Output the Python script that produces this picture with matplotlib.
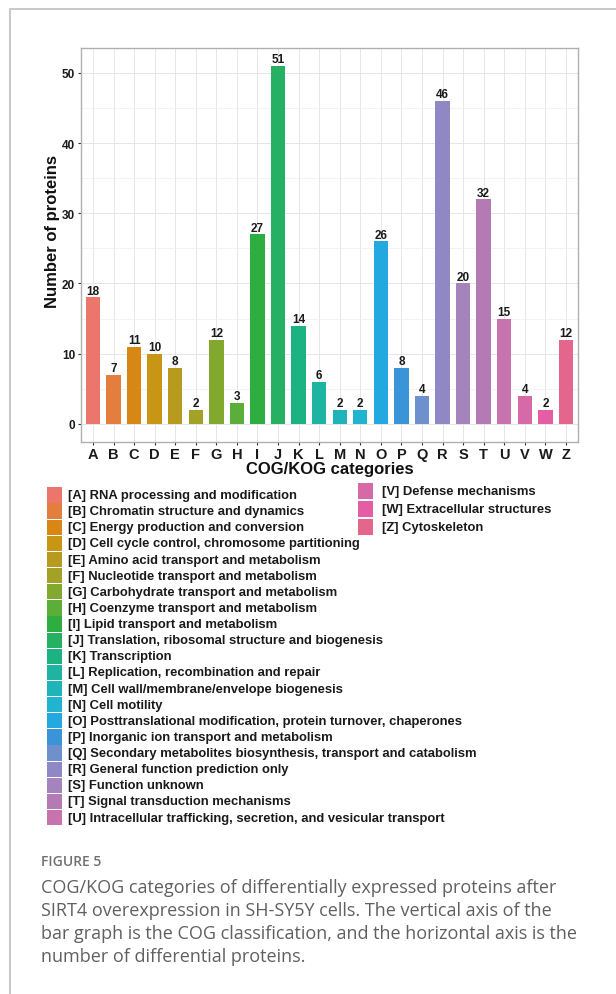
import matplotlib
matplotlib.use("Agg")
import matplotlib.pyplot as plt
from matplotlib.patches import Rectangle
from matplotlib.lines import Line2D
import numpy as np

W, H = 616, 995

CATS = list("ABCDEFGHIJKLMNOPQRSTUVWZ")
COUNTS = [18, 7, 11, 10, 8, 2, 12, 3, 27, 51, 14, 6, 2, 2, 26, 8, 4, 46, 20, 32, 15, 4, 2, 12]
DESCR = [
    "RNA processing and modification",
    "Chromatin structure and dynamics",
    "Energy production and conversion",
    "Cell cycle control, chromosome partitioning",
    "Amino acid transport and metabolism",
    "Nucleotide transport and metabolism",
    "Carbohydrate transport and metabolism",
    "Coenzyme transport and metabolism",
    "Lipid transport and metabolism",
    "Translation, ribosomal structure and biogenesis",
    "Transcription",
    "Replication, recombination and repair",
    "Cell wall/membrane/envelope biogenesis",
    "Cell motility",
    "Posttranslational modification, protein turnover, chaperones",
    "Inorganic ion transport and metabolism",
    "Secondary metabolites biosynthesis, transport and catabolism",
    "General function prediction only",
    "Function unknown",
    "Signal transduction mechanisms",
    "Intracellular trafficking, secretion, and vesicular transport",
    "Defense mechanisms",
    "Extracellular structures",
    "Cytoskeleton",
]
YTICKS = [0, 10, 20, 30, 40, 50]
CAPTION_HEAD = "FIGURE 5"
CAPTION_LINES = [
    "COG/KOG categories of differentially expressed proteins after",
    "SIRT4 overexpression in SH-SY5Y cells. The vertical axis of the",
    "bar graph is the COG classification, and the horizontal axis is the",
    "number of differential proteins.",
]

# colours as they appear in the figure (muted ggplot hue wheel)
COLORS = [
    "#ec766c", "#e47e3e", "#d98714", "#c99514", "#b89a1e", "#a4a127",
    "#82a82d", "#5cae3a", "#2eae41", "#26b064", "#1cb282", "#1fb4a2",
    "#1fb4ba", "#21b4cf", "#23a9e0", "#3a95d8", "#6e91ce", "#8f88c4",
    "#a583bd", "#b47ab4", "#c673ae", "#d66aa9", "#e35ea4", "#e4668d",
]


def fx(x):
    return x / W


def fy(y):
    return 1 - y / H


FONT = "Liberation Sans"

fig = plt.figure(figsize=(W / 100, H / 100), dpi=100)

# outer frame of the figure panel
fig.add_artist(Line2D([fx(9.5), 1.0], [fy(10), fy(10)], color="#c8c8c8", lw=1.4))
fig.add_artist(Line2D([fx(9.5), fx(9.5)], [fy(10), 0.0], color="#c8c8c8", lw=1.4))

# ── bar chart ──
ax = fig.add_axes([fx(80.6), fy(442.7), fx(578.3) - fx(80.6), fy(49) - fy(442.7)])
x = np.arange(len(CATS))
ax.bar(x, COUNTS, width=0.7, color=COLORS, zorder=3)
for xi, v in zip(x, COUNTS):
    ax.annotate(str(v), (xi, v), xytext=(0, 0.5), textcoords="offset points",
                ha="center", va="bottom", fontsize=8.5, fontweight="bold",
                family=FONT, color="#1a1a1a", zorder=4)

ax.set_xlim(-0.6, len(CATS) - 0.4)
ax.set_ylim(-2.55, 53.55)
ax.set_xticks(x)
ax.set_xticklabels(CATS)
ax.set_yticks(YTICKS)
ax.set_yticks(np.arange(5, 55, 10), minor=True)
ax.grid(True, which="major", color="#e6e6e6", lw=0.7, zorder=0)
ax.grid(True, which="minor", axis="y", color="#eeeeee", lw=0.5, zorder=0)
ax.set_axisbelow(True)
for s in ax.spines.values():
    s.set_color("#b0b0b0")
    s.set_linewidth(1.0)
ax.tick_params(axis="both", which="major", length=2.5, width=0.8, color="#333333", pad=1.5)
ax.tick_params(axis="x", which="major", pad=1.0)
ax.tick_params(axis="y", which="minor", length=0)
for lab in ax.get_xticklabels():
    lab.set_fontsize(10.5)
    lab.set_fontweight("bold")
    lab.set_family(FONT)
    lab.set_color("#1a1a1a")
for lab in ax.get_yticklabels():
    lab.set_fontsize(8.5)
    lab.set_fontweight("bold")
    lab.set_family(FONT)
    lab.set_color("#1a1a1a")

fig.text(fx(53), fy(232), "Number of proteins", rotation=90, ha="center", va="center",
         fontsize=12, fontweight="bold", family=FONT, color="#111111")
fig.text(fx(329.5), fy(469.5), "COG/KOG categories", ha="center", va="center",
         fontsize=12, fontweight="bold", family=FONT, color="#111111")

# ── legend (21 entries left, 3 right) ──
n_left = 21
for i in range(len(CATS)):
    if i < n_left:
        sx, cy, step, tx = 46.7, 496.0 + i * 16.13, 16.13, 67.5
    else:
        sx, cy, step, tx = 358.3, 492.0 + (i - n_left) * 18.0, 17.0, 382.5
    fig.add_artist(Rectangle((fx(sx), fy(cy + step / 2 - 0.4)), fx(15), (step - 0.8) / H,
                             transform=fig.transFigure, facecolor=COLORS[i], edgecolor="none"))
    fig.text(fx(tx), fy(cy), f"[{CATS[i]}] {DESCR[i]}", ha="left", va="center",
             fontsize=9.4, fontweight="bold", family=FONT, color="#1a1a1a")

# ── caption ──
fig.text(fx(41), fy(862), CAPTION_HEAD, ha="left", va="center", fontsize=10,
         family="Open Sans", fontweight="semibold", color="#707070")
for k, line in enumerate(CAPTION_LINES):
    fig.text(fx(41), fy(888.5 + k * 22.8), line, ha="left", va="center", fontsize=13,
             family="Open Sans", color="#606060")

fig.savefig("out.png", dpi=100)
